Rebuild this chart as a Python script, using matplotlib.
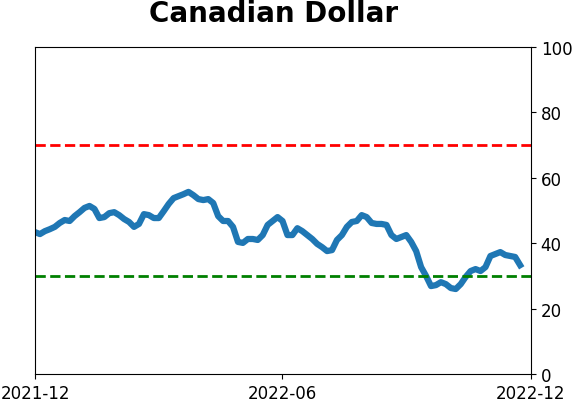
import pandas as pd
import matplotlib
matplotlib.use("Agg")
import matplotlib.pyplot as plt
import matplotlib.dates as mdates

# values, roughly every 3-4 days
values = [43.4, 42.8, 43.7, 44.3, 45.0, 46.2, 47.1, 46.8, 48.3, 49.5,
          50.8, 51.4, 50.5, 47.7, 48.0, 49.2, 49.5, 48.6, 47.4, 46.5,
          45.0, 45.9, 48.9, 48.6, 47.7, 47.7, 49.8, 52.0, 53.8, 54.4,
          55.0, 55.7, 54.7, 53.5, 53.2, 53.5, 52.3, 48.3, 46.8, 46.8,
          45.0, 40.4, 40.1, 41.3, 41.3, 41.0, 42.5, 45.6, 46.8, 48.0,
          46.8, 42.5, 42.5, 44.6, 43.7, 42.5, 41.3, 39.8, 38.8, 37.6,
          37.9, 41.0, 42.5, 45.0, 46.5, 46.8, 48.6, 48.0, 46.2, 45.9,
          45.9, 45.6, 42.5, 41.3, 41.9, 42.5, 40.4, 37.6, 32.7, 30.0,
          26.9, 27.2, 28.1, 27.5, 26.3, 26.0, 27.5, 29.7, 31.5, 32.1,
          31.5, 32.7, 36.1, 36.7, 37.3, 36.4, 36.1, 35.8, 33.3]
dates = pd.date_range("2021-12-01", "2022-11-23", periods=len(values))

upper = 70
lower = 30
xticks = ["2021-12-01", "2022-06-01", "2022-12-01"]

fig = plt.figure(figsize=(5.72, 4.02), dpi=100)
ax = fig.add_axes([0.0612, 0.067, 0.8671, 0.8136])

ax.plot(dates, values, color="#1f77b4", linewidth=4.5)
ax.axhline(upper, color="red", linestyle="--", linewidth=2)
ax.axhline(lower, color="green", linestyle="--", linewidth=2)

ax.set_ylim(0, 100)
ax.set_xlim(pd.Timestamp(xticks[0]), pd.Timestamp(xticks[-1]))
ax.set_xticks([pd.Timestamp(t) for t in xticks])
ax.xaxis.set_major_formatter(mdates.DateFormatter("%Y-%m"))
ax.yaxis.tick_right()
ax.tick_params(labelsize=12)

fig.text(0.479, 0.945, "Canadian Dollar", fontsize=20, fontweight="bold",
         ha="center", va="baseline")

fig.savefig("out.png", dpi=100)
